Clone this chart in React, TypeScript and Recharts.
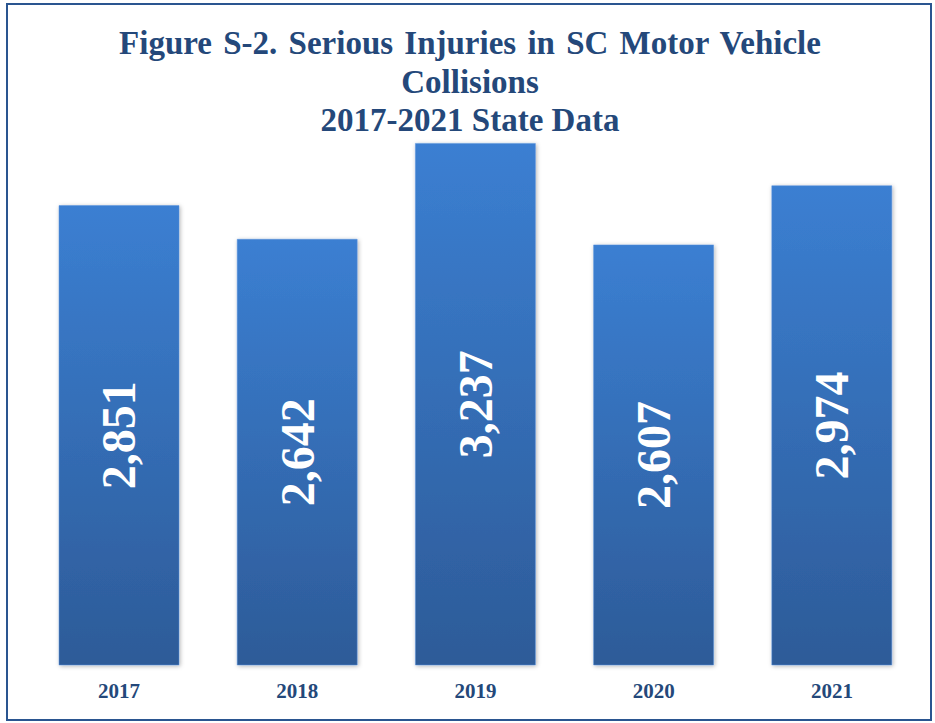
import { BarChart, Bar, XAxis, YAxis, LabelList } from 'recharts'

const years = ['2017', '2018', '2019', '2020', '2021']
const injuries = [2851, 2642, 3237, 2607, 2974]

const data = years.map((year, i) => ({ year, injuries: injuries[i] }))

const navy = '#24487a'
const serif = '"Liberation Serif", "Times New Roman", serif'

function BarValue(props: any) {
  const { x, y, width, height, value } = props
  const cx = x + width / 2
  const cy = y + height / 2
  return (
    <text
      x={cx}
      y={cy}
      transform={`rotate(-90 ${cx} ${cy})`}
      textAnchor="middle"
      dominantBaseline="central"
      fill="#ffffff"
      fontFamily={serif}
      fontWeight="bold"
      fontSize={48}
    >
      {value.toLocaleString('en-US')}
    </text>
  )
}

export default function App() {
  return (
    <div style={{ position: 'absolute', left: 0, top: 0, width: 935, height: 723, background: '#fff' }}>
      <div
        style={{
          position: 'absolute',
          left: 6,
          top: 3,
          width: 922,
          height: 714,
          border: '2px solid #2a5590',
        }}
      />
      <div
        style={{
          position: 'absolute',
          left: 0,
          top: 24,
          width: 940,
          textAlign: 'center',
          fontFamily: serif,
          fontWeight: 'bold',
          fontSize: 33,
          lineHeight: '38.5px',
          color: navy,
        }}
      >
        <div style={{ wordSpacing: 3 }}>Figure S-2. Serious Injuries in SC Motor Vehicle</div>
        <div>Collisions</div>
        <div>2017-2021 State Data</div>
      </div>
      <div style={{ position: 'absolute', left: 0, top: 0 }}>
        <BarChart
          width={935}
          height={723}
          data={data}
          margin={{ top: 101, right: 14, bottom: 28, left: 30 }}
          barSize={120}
        >
          <defs>
            <linearGradient id="barFill" x1="0" y1="0" x2="0" y2="1">
              <stop offset="0%" stopColor="#3b7fd2" />
              <stop offset="100%" stopColor="#2d5b98" />
            </linearGradient>
            <filter id="barShadow" x="-10%" y="-10%" width="120%" height="120%">
              <feDropShadow dx="1" dy="1" stdDeviation="2" floodColor="#000" floodOpacity="0.3" />
            </filter>
          </defs>
          <XAxis
            dataKey="year"
            axisLine={false}
            tickLine={false}
            height={30}
            tick={{ fontFamily: serif, fontWeight: 'bold', fontSize: 21, fill: navy }}
            dy={10}
          />
          <YAxis hide domain={[0, 3500]} />
          <Bar
            dataKey="injuries"
            fill="url(#barFill)"
            stroke="#5a93dc"
            strokeWidth={0.5}
            filter="url(#barShadow)"
            isAnimationActive={false}
          >
            <LabelList dataKey="injuries" content={BarValue} />
          </Bar>
        </BarChart>
      </div>
    </div>
  )
}
